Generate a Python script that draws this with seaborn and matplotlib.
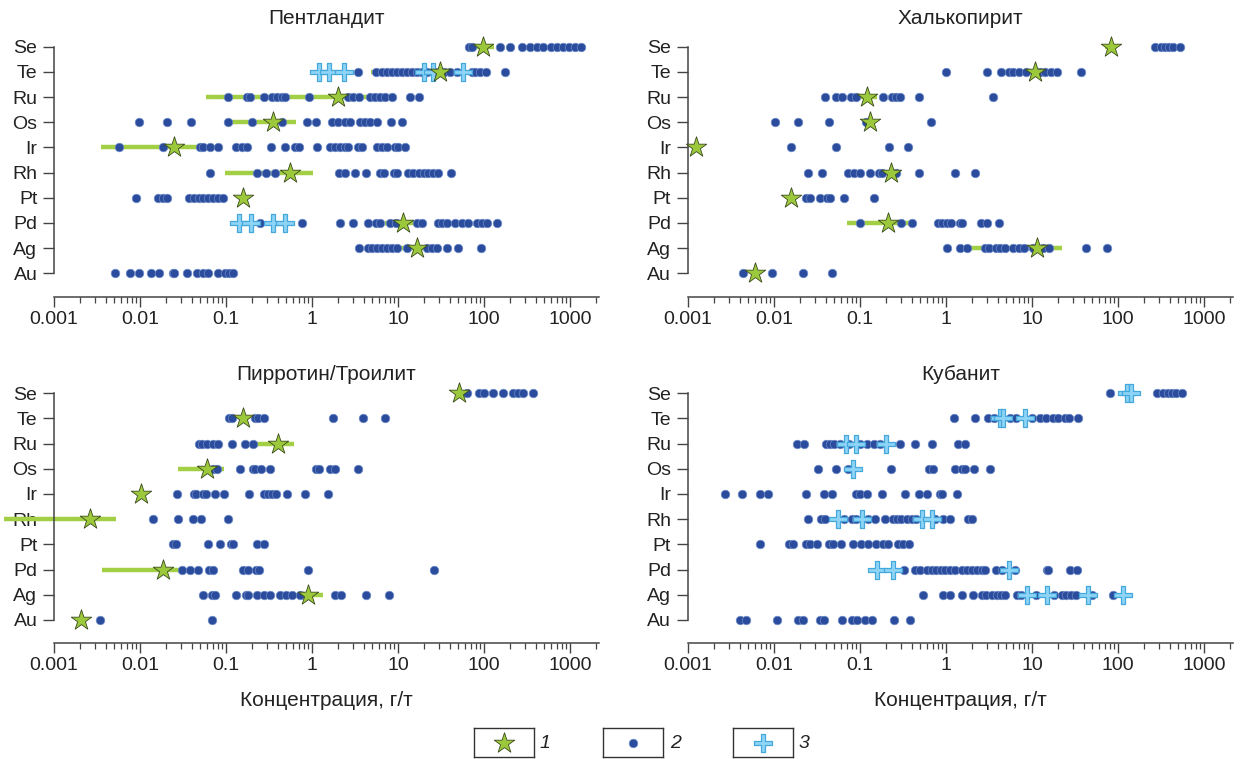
import numpy as np
import pandas as pd
import seaborn as sns
import matplotlib
matplotlib.use("Agg")
import matplotlib.pyplot as plt
from matplotlib.path import Path
from matplotlib.ticker import LogLocator, NullFormatter

sns.set_style("ticks")
plt.rcParams['font.family'] = ['Liberation Sans', 'DejaVu Sans']

ELEMENTS = ['Se', 'Te', 'Ru', 'Os', 'Ir', 'Rh', 'Pt', 'Pd', 'Ag', 'Au']
XTICKS = [1e-3, 1e-2, 1e-1, 1, 10, 100, 1000]
XTICK_LABELS = ['0.001', '0.01', '0.1', '1', '10', '100', '1000']
LEGEND_LABELS = ['1', '2', '3']
XLABEL = 'Концентрация, г/т'

# Пентландит
pent_dots = {
    'Se': [66, 73, 153, 203, 273, 338, 417, 489, 604, 708, 829, 972, 1140, 1330],
    'Te': [3.4, 5.6, 6.5, 7.5, 8.5, 9.7, 11, 12.6, 14.4, 16.5, 18.9, 21.6, 27, 34, 40, 48,
           72, 79, 90, 106, 176],
    'Ru': [0.106, 0.174, 0.19, 0.277, 0.34, 0.39, 0.445, 0.49, 0.93, 2.6, 3.0, 3.5, 4.7,
           5.4, 6.2, 7.1, 8.4, 13.8, 17.3],
    'Os': [0.0098, 0.0204, 0.0389, 0.106, 0.199, 0.45, 0.88, 1.11, 1.69, 2.03, 2.42, 2.77,
           3.6, 4.1, 4.7, 5.65, 8.2, 11.0],
    'Ir': [0.00575, 0.0187, 0.0498, 0.054, 0.066, 0.081, 0.131, 0.152, 0.177, 0.333, 0.485,
           0.635, 0.713, 1.13, 1.62, 1.85, 2.12, 2.42, 2.65, 3.46, 3.79, 5.65, 6.46, 7.4,
           9.2, 10.1, 12.1],
    'Rh': [0.065, 0.227, 0.29, 0.37, 2.08, 2.42, 3.16, 4.25, 6.2, 6.9, 9.0, 9.7, 13.2, 15.1,
           17.3, 20.1, 22.6, 25.8, 29.5, 41.4],
    'Pt': [0.0089, 0.0163, 0.0183, 0.0208, 0.0374, 0.0424, 0.049, 0.0545, 0.0623, 0.0713,
           0.08, 0.0914],
    'Pd': [0.248, 0.76, 2.12, 2.97, 4.52, 5.55, 6.2, 8.0, 9.5, 16.5, 18.9, 29.5, 32.2, 37,
           46, 55, 65.8, 82, 94, 107, 140],
    'Ag': [3.56, 4.52, 4.94, 5.65, 6.5, 7.4, 8.5, 9.7, 12.6, 21.6, 24.6, 28, 37.5, 50.4, 92],
    'Au': [0.0051, 0.0077, 0.0098, 0.0134, 0.0166, 0.024, 0.025, 0.0355, 0.0463, 0.0545,
           0.061, 0.081, 0.097, 0.109, 0.122],
}
pent_cross = {'Te': [1.19, 1.59, 2.36, 20.1, 25.8, 56.5], 'Pd': [0.143, 0.194, 0.35, 0.485]}
pent_star = {'Se': 97, 'Te': 30.8, 'Ru': 2.03, 'Os': 0.355, 'Ir': 0.0248, 'Rh': 0.556,
             'Pt': 0.159, 'Pd': 11.5, 'Ag': 16.5}
pent_range = {'Se': (69, 130), 'Te': (4.9, 62), 'Ru': (0.058, 4.3), 'Os': (0.097, 0.65),
              'Ir': (0.0035, 0.049), 'Rh': (0.097, 1.04), 'Pd': (7.1, 16.5), 'Ag': (5.6, 28)}

# Халькопирит
chalco_dots = {
    'Se': [272, 320, 350, 390, 440, 530],
    'Te': [1.0, 3.03, 4.4, 5.4, 6.0, 7.06, 8.5, 12.5, 14.1, 16.5, 19.3, 37.6],
    'Ru': [0.0397, 0.0534, 0.0619, 0.0788, 0.09, 0.184, 0.235, 0.26, 0.296, 0.492, 3.48],
    'Os': [0.0103, 0.0193, 0.0432, 0.117, 0.676],
    'Ir': [0.0158, 0.0534, 0.215, 0.366],
    'Rh': [0.0246, 0.0365, 0.0725, 0.086, 0.1007, 0.13, 0.166, 0.18, 0.266, 0.486, 1.27, 2.16],
    'Pt': [0.0234, 0.026, 0.0339, 0.0418, 0.045, 0.0659, 0.146],
    'Pd': [0.1007, 0.302, 0.398, 0.809, 0.9, 1.03, 1.15, 1.45, 1.55, 2.59, 3.03, 4.17],
    'Ag': [1.03, 1.45, 1.75, 2.88, 3.2, 3.83, 4.3, 4.89, 6.0, 7.06, 8.0, 10.2, 13.3, 15.6,
           42.7, 74.8],
    'Au': [0.0044, 0.0095, 0.0215, 0.0475],
}
chalco_star = {'Se': 82, 'Te': 10.8, 'Ru': 0.12, 'Os': 0.13, 'Ir': 0.00124, 'Rh': 0.227,
               'Pt': 0.0158, 'Pd': 0.211, 'Ag': 11.6, 'Au': 0.0061}
chalco_range = {'Se': (70, 95), 'Te': (4.17, 19.3), 'Ru': (0.092, 0.157), 'Pd': (0.071, 0.385),
                'Ag': (1.75, 22.1)}

# Пирротин/Троилит
pyrr_dots = {
    'Se': [64, 88, 100, 127, 166, 216, 245, 282, 367],
    'Te': [0.108, 0.118, 0.215, 0.235, 0.274, 1.74, 3.92, 7.0],
    'Ru': [0.048, 0.053, 0.0606, 0.07, 0.0815, 0.118, 0.165, 0.204],
    'Os': [0.07, 0.0789, 0.146, 0.204, 0.22, 0.257, 0.328, 1.1, 1.2, 1.6, 1.83, 3.45],
    'Ir': [0.0266, 0.0419, 0.045, 0.0534, 0.058, 0.0749, 0.0955, 0.184, 0.274, 0.31, 0.346,
           0.38, 0.516, 0.83, 1.52],
    'Rh': [0.0141, 0.0275, 0.041, 0.0507, 0.105],
    'Pt': [0.0239, 0.026, 0.062, 0.086, 0.114, 0.122, 0.232, 0.28],
    'Pd': [0.0305, 0.0377, 0.0476, 0.064, 0.07, 0.157, 0.18, 0.222, 0.245, 0.894, 26.2],
    'Ag': [0.0546, 0.0695, 0.0749, 0.131, 0.169, 0.18, 0.228, 0.274, 0.328, 0.428, 0.5,
           0.586, 0.724, 1.83, 2.19, 4.26, 7.78],
    'Au': [0.0034, 0.0688],
}
pyrr_star = {'Se': 50.9, 'Te': 0.157, 'Ru': 0.405, 'Os': 0.0606, 'Ir': 0.0104, 'Rh': 0.00264,
             'Pd': 0.0184, 'Ag': 0.894, 'Au': 0.00207}
pyrr_range = {'Ru': (0.204, 0.618), 'Os': (0.028, 0.0955), 'Rh': (0.00026, 0.0052),
              'Pd': (0.00362, 0.034), 'Ag': (0.475, 1.34)}

# Кубанит
cuban_dots = {
    'Se': [80.5, 287, 330, 380, 420, 470, 552],
    'Te': [1.25, 2.15, 3.05, 3.6, 5.5, 6.5, 10, 12.4, 14.5, 17.7, 20, 24, 27, 34],
    'Ru': [0.0184, 0.0224, 0.0403, 0.045, 0.05, 0.0587, 0.075, 0.1, 0.12, 0.147, 0.17, 0.292,
           0.436, 0.682, 1.39, 1.67],
    'Os': [0.0329, 0.0523, 0.0734, 0.23, 0.641, 0.7, 1.28, 1.52, 1.67, 2.12, 3.25],
    'Ir': [0.0027, 0.0043, 0.0069, 0.0086, 0.0236, 0.0383, 0.047, 0.0893, 0.1, 0.122, 0.182,
           0.334, 0.486, 0.597, 0.853, 0.9, 1.33],
    'Rh': [0.0247, 0.035, 0.039, 0.065, 0.08, 0.09, 0.125, 0.15, 0.196, 0.24, 0.27, 0.3,
           0.35, 0.4, 0.45, 0.75, 0.93, 1.13, 1.82, 2.0],
    'Pt': [0.0068, 0.0151, 0.0168, 0.0236, 0.0263, 0.0314, 0.0438, 0.048, 0.0597, 0.0824,
           0.102, 0.123, 0.154, 0.187, 0.214, 0.28, 0.32, 0.376],
    'Pd': [0.329, 0.436, 0.5, 0.6, 0.68, 0.77, 0.87, 0.97, 1.11, 1.28, 1.52, 1.75, 2.0, 2.3,
           2.6, 2.85, 3.8, 4.5, 6.35, 14.8, 15.5, 27.7, 33.1],
    'Ag': [0.537, 0.93, 1.11, 1.52, 2.05, 2.6, 2.95, 3.4, 3.9, 4.4, 4.86, 6.65, 7.5, 11, 18,
           22.2, 25, 28.5, 32.5, 50, 88.5],
    'Au': [0.004, 0.0048, 0.011, 0.0192, 0.022, 0.0343, 0.038, 0.0614, 0.08, 0.092, 0.115,
           0.14, 0.249, 0.383],
}
cuban_cross = {'Se': [128, 142], 'Te': [4.3, 4.6, 8.3], 'Ru': [0.069, 0.09, 0.2],
               'Os': [0.0824], 'Rh': [0.0552, 0.107, 0.522, 0.682], 'Pd': [0.16, 0.245, 5.46],
               'Ag': [8.85, 14.8, 45.3, 116]}

BLUE = '#2b4c9c'
BLUE_EDGE = '#6d8bc8'
GREEN = '#a3cf45'
STAR_FILL = '#9cc93b'
STAR_EDGE = '#3b4a1e'
CROSS_FILL = '#8ed4f6'
CROSS_EDGE = '#45a8dd'
TEXT = '#222222'

W, H = 1241, 759

# thin-armed plus used for the third series
_a = 0.13
THIN_PLUS = Path([(-_a, 0.5), (_a, 0.5), (_a, _a), (0.5, _a), (0.5, -_a), (_a, -_a),
                  (_a, -0.5), (-_a, -0.5), (-_a, -_a), (-0.5, -_a), (-0.5, _a), (-_a, _a),
                  (-_a, 0.5)], closed=True)


def to_frame(d):
    rows = [(v, ELEMENTS.index(el)) for el, vals in d.items() for v in np.atleast_1d(vals)]
    return pd.DataFrame(rows, columns=['conc', 'pos'])


def draw_dots(ax, df):
    sns.scatterplot(data=df, x='conc', y='pos', ax=ax, s=38, color=BLUE,
                    edgecolor=BLUE_EDGE, linewidth=0.5, zorder=3, clip_on=False)


def draw_cross(ax, df):
    sns.scatterplot(data=df, x='conc', y='pos', ax=ax, marker=THIN_PLUS, s=170,
                    color=CROSS_FILL, edgecolor=CROSS_EDGE, linewidth=0.9, zorder=4,
                    clip_on=False)


def draw_star(ax, df):
    sns.scatterplot(data=df, x='conc', y='pos', ax=ax, marker='*', s=240, color=STAR_FILL,
                    edgecolor=STAR_EDGE, linewidth=0.6, zorder=5, clip_on=False)


def panel(rect, title, title_y, dots, cross=None, star=None, rng=None, xlabel=False):
    ax = fig.add_axes(rect)
    ax.set_xscale('log')
    if rng:
        for el, (lo, hi) in rng.items():
            ax.hlines(ELEMENTS.index(el), lo, hi, color=GREEN, lw=3.2, zorder=2, clip_on=False)
    draw_dots(ax, to_frame(dots))
    if cross:
        draw_cross(ax, to_frame(cross))
    if star:
        draw_star(ax, to_frame(star))

    ax.set_xlim(1e-3, 2170)
    ax.set_ylim(9.93, -0.5)
    ax.set_xticks(XTICKS)
    ax.set_xticklabels(XTICK_LABELS)
    ax.xaxis.set_minor_locator(LogLocator(base=10, subs=np.arange(2, 10), numticks=30))
    ax.xaxis.set_minor_formatter(NullFormatter())
    ax.set_yticks(range(len(ELEMENTS)))
    ax.set_yticklabels(ELEMENTS)
    ax.spines[['top', 'right']].set_visible(False)
    ax.spines['left'].set_bounds(0, 9)
    for sp in ['left', 'bottom']:
        ax.spines[sp].set_color('#444444')
        ax.spines[sp].set_linewidth(1.1)
    ax.tick_params(axis='x', which='major', direction='out', length=7.2, width=1,
                   color='#444444', labelsize=14, labelcolor=TEXT, pad=3)
    ax.tick_params(axis='x', which='minor', direction='out', length=4.3, width=0.9,
                   color='#444444')
    ax.tick_params(axis='y', direction='out', length=8, width=1, color='#444444',
                   labelsize=14, labelcolor=TEXT, pad=4)
    ax.set_ylabel('')
    ax.set_xlabel(XLABEL if xlabel else '', fontsize=15, color=TEXT)
    if xlabel:
        ax.xaxis.set_label_coords(0.5, -0.2186)
        ax.xaxis.label.set_va('center')
    ax.text(0.5, title_y, title, transform=ax.transAxes, ha='center', va='center',
            fontsize=15, color=TEXT)
    return ax


fig = plt.figure(figsize=(W / 100, H / 100), dpi=100)

aw, ah = 545 / W, 262.6 / H
top_b, bot_b = 1 - 296.7 / H, 1 - 643.3 / H
left_l, right_l = 54 / W, 687.9 / W

panel([left_l, top_b, aw, ah], 'Пентландит', 1.060, pent_dots, pent_cross, pent_star, pent_range)
panel([right_l, top_b, aw, ah], 'Халькопирит', 1.060, chalco_dots, None, chalco_star, chalco_range)
panel([left_l, bot_b, aw, ah], 'Пирротин/Троилит', 1.022, pyrr_dots, None, pyrr_star, pyrr_range,
      xlabel=True)
panel([right_l, bot_b, aw, ah], 'Кубанит', 1.022, cuban_dots, cuban_cross, None, None,
      xlabel=True)

# legend boxes
box_left = [474, 603.4, 732.5]
label_x = [545, 676, 803.5]
drawers = [draw_star, draw_dots, draw_cross]
for bx, lx, lab, draw in zip(box_left, label_x, LEGEND_LABELS, drawers):
    lax = fig.add_axes([bx / W, 1 - 757 / H, 60 / W, 29 / H])
    lax.set_xscale('log')
    draw(lax, pd.DataFrame({'conc': [1.0], 'pos': [0.0]}))
    lax.set_xlim(0.1, 10)
    lax.set_ylim(-1, 1)
    lax.set_xticks([])
    lax.set_yticks([])
    lax.minorticks_off()
    lax.set_xlabel('')
    lax.set_ylabel('')
    for sp in lax.spines.values():
        sp.set_visible(True)
        sp.set_color('#333333')
        sp.set_linewidth(1.0)
    fig.text(lx / W, 1 - 743.3 / H, lab, style='italic', fontsize=14, color=TEXT,
             ha='center', va='center')

fig.savefig('out.png', dpi=100)
